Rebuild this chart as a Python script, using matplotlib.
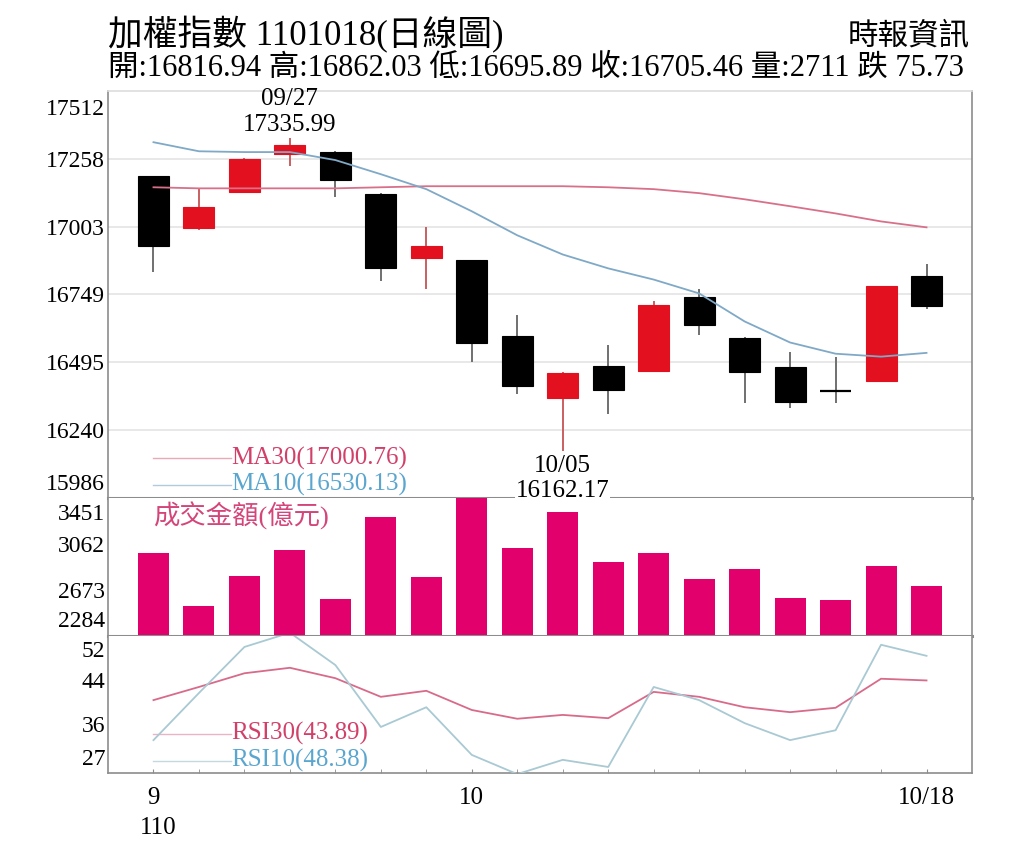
import matplotlib
matplotlib.use("Agg")
import matplotlib.pyplot as plt
import matplotlib.transforms as mtransforms
import numpy as np

plt.rcParams['font.family'] = ['Liberation Serif', 'Noto Sans CJK TC', 'DejaVu Sans']

# daily candles 2021/09/22 .. 2021/10/18
dates = ['09/22', '09/23', '09/24', '09/27', '09/28', '09/29', '09/30', '10/01', '10/04',
         '10/05', '10/06', '10/07', '10/08', '10/12', '10/13', '10/14', '10/15', '10/18']
opens = [17192, 16997, 17132, 17275, 17283, 17125, 16884, 16877, 16595,
         16362, 16482, 16463, 16741, 16587, 16478, 16388, 16426, 16816.94]
highs = [17195, 17144, 17260, 17335.99, 17288, 17128, 17001, 16880, 16674,
         16460, 16561, 16723, 16768, 16590, 16535, 16516, 16782, 16862.03]
lows = [16835, 16990, 17128, 17230, 17114, 16798, 16768, 16497, 16377,
        16162.17, 16302, 16460, 16599, 16343, 16324, 16343, 16423, 16695.89]
closes = [16929, 17076, 17256, 17309, 17177, 16850, 16929, 16569, 16407,
          16456, 16392, 16711, 16636, 16460, 16347, 16388, 16779, 16705.46]

ma10 = [17320, 17286, 17283, 17283, 17253, 17200, 17144, 17061, 16971,
        16899, 16847, 16805, 16753, 16648, 16569, 16527, 16516, 16530.13]
ma30 = [17151, 17147, 17147, 17147, 17147, 17151, 17155, 17155, 17155,
        17155, 17151, 17144, 17129, 17106, 17080, 17053, 17023, 17000.76]

volume = [2982, 2534, 2789, 3008, 2597, 3287, 2781, 3451, 3025,
          3329, 2908, 2982, 2767, 2852, 2605, 2585, 2880, 2711]

rsi30 = [40.3, 42.7, 45.2, 46.2, 44.3, 40.9, 42.0, 38.5, 36.9,
         37.6, 37.0, 41.8, 40.9, 39.0, 38.1, 38.9, 44.2, 43.89]
rsi10 = [33.0, 41.6, 50.0, 52.6, 46.7, 35.4, 39.0, 30.3, 26.8,
         29.4, 28.1, 42.7, 40.3, 36.1, 33.0, 34.8, 50.4, 48.38]

price_ticks = [15986, 16240, 16495, 16749, 17003, 17258, 17512]
vol_ticks = [2284, 2673, 3062, 3451]
rsi_ticks = [27, 36, 44, 52]
x_labels = {0: '9', 7: '10', 17: '10/18'}
year_label = '110'

RED = '#e3101f'
MAG = '#e2006d'
MA30_C = '#d9708a'
MA10_C = '#7fa9c6'
RSI30_C = '#d86a8a'
RSI10_C = '#a9c9d3'
GRID = '#e4e4e4'
SPINE = '#8c8c8c'


def style_axis(ax, ticks, lim, top_off=-0.08, bot_off=0.03):
    ax.set_xlim(-1, len(dates))
    ax.set_ylim(*lim)
    ax.set_yticks(ticks)
    ax.set_yticklabels([str(t) for t in ticks])
    ax.tick_params(axis='y', length=0, labelsize=17, pad=2)
    for s in ax.spines.values():
        s.set_color(SPINE)
        s.set_linewidth(1.2)
    labels = ax.get_yticklabels()
    labels[0].set_va('bottom')
    labels[-1].set_va('top')
    dpi_tr = ax.figure.dpi_scale_trans
    labels[-1].set_transform(labels[-1].get_transform() +
                             mtransforms.ScaledTranslation(0, top_off, dpi_tr))
    labels[0].set_transform(labels[0].get_transform() +
                            mtransforms.ScaledTranslation(0, bot_off, dpi_tr))


def main():
    fig = plt.figure(figsize=(10.24, 8.63), dpi=100)
    L, W = 108 / 1024, 864 / 1024
    ax1 = fig.add_axes([L, 365 / 863, W, 407 / 863])
    ax2 = fig.add_axes([L, 227 / 863, W, 138 / 863])
    ax3 = fig.add_axes([L, 90 / 863, W, 137 / 863])

    x = np.arange(len(dates))
    bw = 0.68

    # ---- price panel
    style_axis(ax1, price_ticks, (price_ticks[0], price_ticks[-1]))
    for t in price_ticks[1:-1]:
        ax1.axhline(t, color=GRID, lw=1.2, zorder=0)
    ax1.spines['top'].set_color('#dddddd')
    ax1.spines['bottom'].set_linewidth(2.2)
    ax1.set_xticks([])
    for i in x:
        o, h, l, c = opens[i], highs[i], lows[i], closes[i]
        if c > o:
            col, wcol = RED, '#c96060'
        else:
            col, wcol = 'black', '#707070'
        ax1.vlines(i, l, h, color=wcol, lw=1.4, zorder=2)
        if abs(c - o) < 1:
            ax1.hlines(o, i - bw / 2, i + bw / 2, color='black', lw=1.6, zorder=3)
        else:
            ax1.bar(i, abs(c - o), bottom=min(o, c), width=bw, color=col,
                    edgecolor=col, lw=0.8, zorder=3)
    ax1.plot(x, ma30, color=MA30_C, lw=1.3, zorder=4)
    ax1.plot(x, ma10, color=MA10_C, lw=1.3, zorder=4)

    ax1.text(3, 17335.99 + 8, '09/27\n17335.99', ha='center', va='bottom',
             fontsize=18, linespacing=1.2)
    ax1.text(9, 16162.17 - 14, '10/05\n16162.17', ha='center', va='top',
             fontsize=18, linespacing=1.2, zorder=6,
             bbox=dict(facecolor='white', edgecolor='none', pad=0.3))

    # MA legend
    ax1.plot([0, 1.7], [16136, 16136], color=MA30_C, lw=1, alpha=0.6)
    ax1.text(1.72, 16136, 'MA30(17000.76)', color='#d2406a', fontsize=18, va='center')
    ax1.plot([0, 1.7], [16035, 16035], color=MA10_C, lw=1, alpha=0.6)
    ax1.text(1.72, 16035, 'MA10(16530.13)', color='#5aa6cf', fontsize=18, va='center')

    # ---- volume panel
    style_axis(ax2, vol_ticks, (vol_ticks[0], vol_ticks[-1]), -0.06, 0.04)
    ax2.spines['top'].set_visible(False)
    ax2.spines['bottom'].set_linewidth(2.2)
    ax2.set_xticks([])
    ax2.bar(x, np.array(volume) - vol_ticks[0], bottom=vol_ticks[0], width=bw,
            color=MAG, zorder=2)
    ax2.text(0, 3300, '成交金額(億元)', color='#d4457a', fontsize=19, va='center')

    # ---- RSI panel
    style_axis(ax3, rsi_ticks, (rsi_ticks[0], rsi_ticks[-1]), -0.05, 0.03)
    ax3.spines['top'].set_visible(False)
    ax3.plot(x, rsi30, color=RSI30_C, lw=1.3, zorder=3)
    ax3.plot(x, rsi10, color=RSI10_C, lw=1.3, zorder=3)
    ax3.plot([0, 1.7], [34.2, 34.2], color=RSI30_C, lw=1, alpha=0.5)
    ax3.text(1.72, 34.2, 'RSI30(43.89)', color='#d2406a', fontsize=18, va='center')
    ax3.plot([0, 1.7], [29.2, 29.2], color=RSI10_C, lw=1, alpha=0.7)
    ax3.text(1.72, 29.2, 'RSI10(48.38)', color='#5aa6cf', fontsize=18, va='center')

    ax3.set_xticks(x, minor=True)
    ax3.tick_params(axis='x', which='minor', direction='in', length=3, color=SPINE)
    ax3.set_xticks(list(x_labels.keys()))
    ax3.set_xticklabels(list(x_labels.values()), fontsize=18)
    ax3.tick_params(axis='x', which='major', direction='in', length=3, color=SPINE, pad=10)
    ax3.text(-0.3, -0.32, year_label, transform=ax3.get_xaxis_transform(),
             fontsize=18, ha='left', va='top')

    # ---- header
    fig.text(108 / 1024, 1 - 35 / 863, '加權指數 1101018(日線圖)', fontsize=25,
             va='center', ha='left')
    fig.text(970 / 1024, 1 - 38 / 863, '時報資訊', fontsize=22, va='center', ha='right')
    fig.text(108 / 1024, 1 - 68 / 863,
             '開:16816.94 高:16862.03 低:16695.89 收:16705.46 量:2711 跌 75.73',
             fontsize=22, va='center', ha='left')

    fig.savefig('out.png', dpi=100, facecolor='white')


if __name__ == '__main__':
    main()
